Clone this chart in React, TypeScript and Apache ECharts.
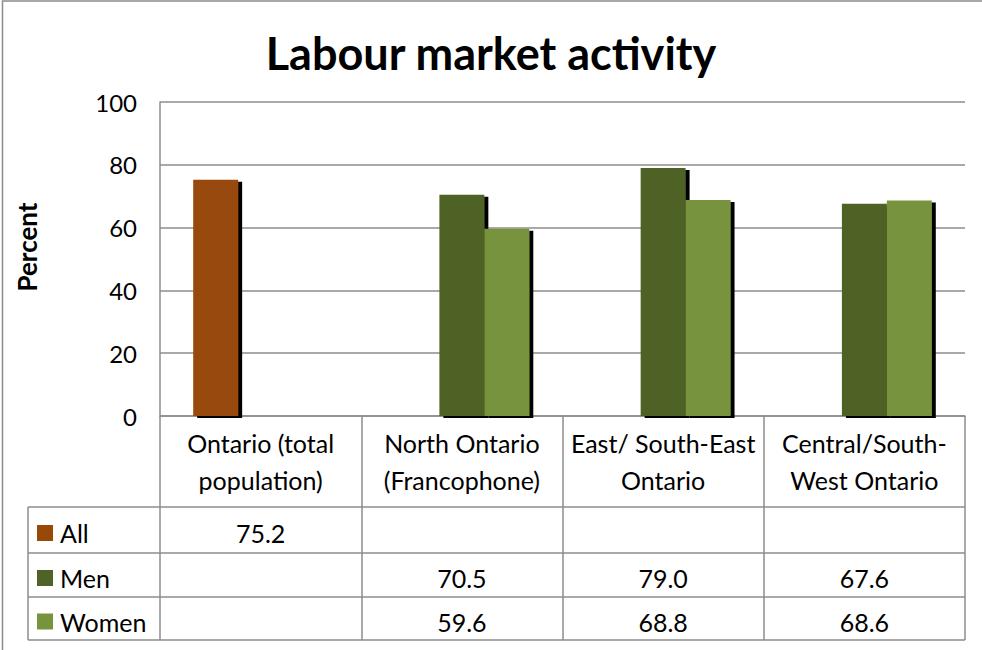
import React, { useEffect, useRef } from "react";
import * as echarts from "echarts";

const categories = [
  "Ontario (total\npopulation)",
  "North Ontario\n(Francophone)",
  "East/ South-East\nOntario",
  "Central/South-\nWest Ontario",
];
const seriesNames = ["All", "Men", "Women"];
const allValues: (number | null)[] = [75.2, null, null, null];
const menValues: (number | null)[] = [null, 70.5, 79.0, 67.6];
const womenValues: (number | null)[] = [null, 59.6, 68.8, 68.6];
const yTicks = [0, 20, 40, 60, 80, 100];
const colors = ["#984807", "#4F6228", "#77933C"];

const FONT = "Lato, 'Open Sans', sans-serif";

export default function App() {
  const ref = useRef<HTMLDivElement>(null);
  useEffect(() => {
    document.body.style.margin = "0";
    if (!ref.current) return;
    const chart = echarts.init(ref.current, undefined, { renderer: "svg" });

    const gridLeft = 160;
    const gridRight = 965;
    const gridTop = 102;
    const axisY = 416;
    const rowEdges = [507, 553, 597, 640];
    const tableLeft = 28;
    const colW = (gridRight - gridLeft) / categories.length;
    const grey = "#8c8c8c";

    const rows = [allValues, menValues, womenValues];
    const graphic: any[] = [];
    graphic.push({
      type: "rect",
      shape: { x: 2.5, y: 1, width: 1000, height: 700 },
      style: { fill: "none", stroke: grey, lineWidth: 1.5 },
      silent: true,
    });
    rowEdges.forEach((y) => {
      graphic.push({
        type: "line",
        shape: { x1: tableLeft, y1: y, x2: gridRight, y2: y },
        style: { stroke: grey, lineWidth: 1.5 },
      });
    });
    graphic.push({
      type: "line",
      shape: { x1: tableLeft, y1: rowEdges[0], x2: tableLeft, y2: rowEdges[3] },
      style: { stroke: grey, lineWidth: 1.5 },
    });
    graphic.push({
      type: "text",
      x: 27,
      y: 247,
      rotation: Math.PI / 2,
      style: {
        text: "Percent",
        fontSize: 26,
        fontWeight: "bold",
        fontFamily: FONT,
        fill: "#000",
        textAlign: "center",
        textVerticalAlign: "middle",
      },
    });
    rows.forEach((vals, r) => {
      const cy = (rowEdges[r] + rowEdges[r + 1]) / 2;
      graphic.push({
        type: "rect",
        shape: { x: 37, y: cy - 5, width: 16, height: 16 },
        style: { fill: colors[r] },
      });
      graphic.push({
        type: "text",
        x: 60,
        y: cy + 3,
        style: {
          text: seriesNames[r],
          fontSize: 25,
          fontFamily: FONT,
          fill: "#000",
          textAlign: "left",
          textVerticalAlign: "middle",
        },
      });
      vals.forEach((v, c) => {
        if (v == null) return;
        graphic.push({
          type: "text",
          x: gridLeft + colW * (c + 0.5),
          y: cy + 3,
          style: {
            text: v.toFixed(1),
            fontSize: 25,
            fontFamily: FONT,
            fill: "#000",
            textAlign: "center",
            textVerticalAlign: "middle",
          },
        });
      });
    });

    const barStyle = (color: string) => ({
      color,
      shadowColor: "#000",
      shadowBlur: 0,
      shadowOffsetX: 4,
      shadowOffsetY: 2,
    });

    chart.setOption({
      animation: false,
      backgroundColor: "#fff",
      textStyle: { fontFamily: FONT },
      title: {
        text: "Labour market activity",
        left: "center",
        top: 25,
        textStyle: { fontSize: 45, fontWeight: "bold", color: "#000", fontFamily: FONT },
      },
      grid: {
        left: gridLeft,
        right: 982 - gridRight,
        top: gridTop,
        height: axisY - gridTop,
        containLabel: false,
      },
      xAxis: {
        type: "category",
        data: categories,
        axisLine: { show: true, lineStyle: { color: grey, width: 1.5 } },
        axisTick: {
          show: true,
          interval: 0,
          length: rowEdges[3] - axisY,
          lineStyle: { color: grey, width: 1.5 },
        },
        axisLabel: {
          interval: 0,
          fontSize: 25,
          lineHeight: 37,
          margin: 8,
          color: "#000",
          fontFamily: FONT,
          align: "center",
        },
      },
      yAxis: {
        type: "value",
        min: yTicks[0],
        max: yTicks[yTicks.length - 1],
        interval: 20,
        axisLine: { show: true, lineStyle: { color: grey, width: 1.5 } },
        axisTick: { show: false },
        axisLabel: { fontSize: 24, color: "#000", margin: 23, fontFamily: FONT },
        splitLine: { show: true, lineStyle: { color: grey, width: 1.5 } },
      },
      series: [
        { name: seriesNames[0], type: "bar", data: allValues, barGap: "0%", barCategoryGap: "33%", itemStyle: barStyle(colors[0]) },
        { name: seriesNames[1], type: "bar", data: menValues, barGap: "0%", barCategoryGap: "33%", itemStyle: barStyle(colors[1]) },
        { name: seriesNames[2], type: "bar", data: womenValues, barGap: "0%", barCategoryGap: "33%", itemStyle: barStyle(colors[2]) },
      ],
      graphic,
    });
    return () => chart.dispose();
  }, []);
  return (
    <div
      ref={ref}
      style={{ position: "fixed", left: 0, top: 0, width: 982, height: 650 }}
    />
  );
}
